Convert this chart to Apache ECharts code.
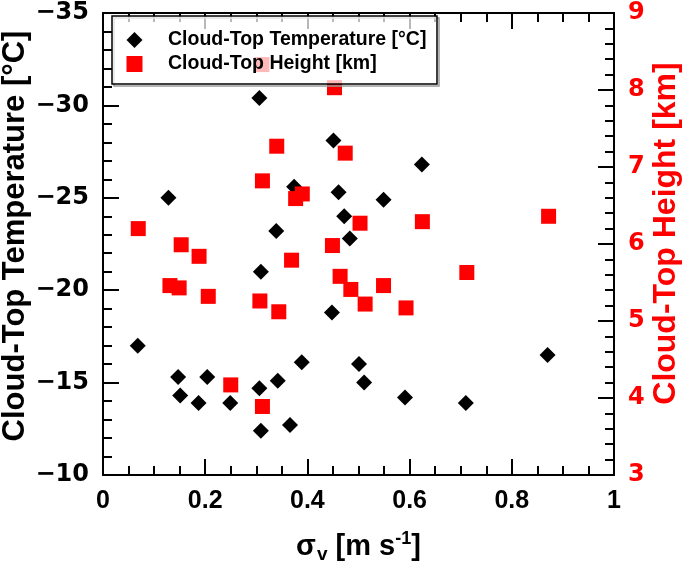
<!DOCTYPE html>
<html>
<head>
<meta charset="utf-8">
<script src="https://cdn.jsdelivr.net/npm/echarts@6/dist/echarts.min.js"></script>
<style>
html,body{margin:0;padding:0;background:#fff;}
#chart{width:685px;height:563px;}
</style>
</head>
<body>
<div id="chart"></div>
<script>
// sigma_v [m s-1] for the temperature points
var sigmaT = [0.306, 0.451, 0.374, 0.461, 0.128, 0.472, 0.339, 0.483, 0.624, 0.549, 0.309, 0.448, 0.068, 0.389, 0.501, 0.147, 0.204, 0.342, 0.306, 0.151, 0.187, 0.249, 0.309, 0.366, 0.511, 0.591, 0.710, 0.870];
// Cloud-top temperature [°C]
var tempC = [-30.4, -28.1, -25.6, -25.3, -25.0, -24.0, -23.2, -22.8, -26.8, -24.9, -21.0, -18.8, -17.0, -16.1, -16.0, -15.3, -15.3, -15.1, -14.7, -14.3, -13.9, -13.9, -12.4, -12.7, -15.0, -14.2, -13.9, -16.5];
// sigma_v [m s-1] for the height points
var sigmaH = [0.311, 0.453, 0.340, 0.474, 0.312, 0.390, 0.377, 0.069, 0.153, 0.449, 0.503, 0.625, 0.872, 0.188, 0.369, 0.131, 0.149, 0.206, 0.307, 0.344, 0.464, 0.485, 0.513, 0.549, 0.593, 0.712, 0.250, 0.312];
// Cloud-top height [km]
var heightKm = [8.33, 8.03, 7.27, 7.18, 6.82, 6.65, 6.59, 6.20, 5.99, 5.98, 6.27, 6.29, 6.36, 5.84, 5.79, 5.46, 5.43, 5.32, 5.26, 5.12, 5.58, 5.41, 5.22, 5.46, 5.17, 5.63, 4.17, 3.89];

var seriesNames = ['Cloud-Top Temperature [°C]', 'Cloud-Top Height [km]'];
var xTitle = ['σ', 'v', ' [m s', '-1', ']'];
var leftTitle = 'Cloud-Top Temperature [°C]';
var rightTitle = 'Cloud-Top Height [km]';

var FONT = 'Liberation Sans, Arial, sans-serif';
var tempData = sigmaT.map(function (x, i) { return [x, tempC[i]]; });
var heightData = sigmaH.map(function (x, i) { return [x, heightKm[i]]; });

function minusFmt(v) { return v < 0 ? '\u2212' + Math.abs(v) : String(v); }

var tickCommon = { show: true, inside: true, length: 16, lineStyle: { color: '#000', width: 2 } };
var minorCommon = function (n) { return { show: true, splitNumber: n, length: 9, lineStyle: { color: '#000', width: 2 } }; };
var lineCommon = { show: true, onZero: false, lineStyle: { color: '#000', width: 2 } };

var chart = echarts.init(document.getElementById('chart'), null, { renderer: 'canvas' });
chart.setOption({
  animation: false,
  backgroundColor: '#fff',
  grid: { left: 103, right: 71, top: 13, bottom: 88, containLabel: false, outerBoundsMode: 'none' },
  xAxis: [{
    type: 'value', min: 0, max: 1, interval: 0.2, position: 'bottom',
    axisLine: lineCommon, axisTick: tickCommon, minorTick: minorCommon(4), splitLine: { show: false },
    axisLabel: { margin: 14, color: '#000', fontFamily: FONT, fontWeight: 'bold', fontSize: 25 },
    name: '{a|' + xTitle[0] + '}{sub|' + xTitle[1] + '}{a|' + xTitle[2] + '}{sup|' + xTitle[3] + '}{a|' + xTitle[4] + '}',
    nameLocation: 'middle', nameGap: 55, nameMoveOverlap: false,
    nameTextStyle: {
      rich: {
        a: { fontFamily: FONT, fontWeight: 'bold', fontSize: 29, color: '#000', lineHeight: 34 },
        sub: { fontFamily: FONT, fontWeight: 'bold', fontSize: 19, color: '#000', verticalAlign: 'bottom', lineHeight: 26, padding: [0, 0, 0, 1] },
        sup: { fontFamily: FONT, fontWeight: 'bold', fontSize: 18, color: '#000', verticalAlign: 'top', lineHeight: 22 }
      }
    }
  }, {
    type: 'value', min: 0, max: 1, interval: 0.2, position: 'top',
    axisLine: lineCommon, axisTick: tickCommon, minorTick: minorCommon(4), splitLine: { show: false },
    axisLabel: { show: false }
  }],
  yAxis: [{
    type: 'value', min: -35, max: -10, interval: 5, inverse: true, position: 'left',
    axisLine: lineCommon, axisTick: tickCommon, minorTick: minorCommon(5), splitLine: { show: false },
    axisLabel: { margin: 14, color: '#000', fontFamily: 'DejaVu Sans', fontWeight: 'bold', fontSize: 24, formatter: minusFmt },
    name: leftTitle, nameLocation: 'middle', nameGap: 72, nameRotate: 90, nameMoveOverlap: false,
    nameTextStyle: { color: '#000', fontFamily: FONT, fontWeight: 'bold', fontSize: 31, padding: [0, 0, 0, 16] }
  }, {
    type: 'value', min: 3, max: 9, interval: 1, position: 'right',
    axisLine: lineCommon, axisTick: tickCommon, minorTick: minorCommon(5), splitLine: { show: false },
    axisLabel: { margin: 14, color: '#ff0000', fontFamily: 'DejaVu Sans', fontWeight: 'bold', fontSize: 24 },
    name: rightTitle, nameLocation: 'middle', nameGap: 36, nameRotate: 90, nameMoveOverlap: false,
    nameTextStyle: { color: '#ff0000', fontFamily: FONT, fontWeight: 'bold', fontSize: 32, padding: [0, 0, 0, 21] }
  }],
  legend: {
    orient: 'vertical', left: 126.5, top: 30, itemWidth: 16, itemHeight: 16, itemGap: 4, padding: 0, z: 10,
    selectedMode: false, symbolKeepAspect: true,
    textStyle: { color: '#000', fontFamily: FONT, fontWeight: 'bold', fontSize: 19.5, lineHeight: 20, padding: [0, 0, 0, 20.5] },
    data: [{ name: seriesNames[0], icon: 'diamond' }, { name: seriesNames[1], icon: 'rect' }]
  },
  graphic: [
    { type: 'rect', z: 5, shape: { x: 114, y: 18, width: 325, height: 68 }, style: { fill: 'none', stroke: '#9a9a9a', lineWidth: 1.5 } },
    { type: 'rect', z: 6, shape: { x: 112, y: 16, width: 325, height: 68 }, style: { fill: 'rgba(255,255,255,0.72)', stroke: '#000', lineWidth: 1.5 } }
  ],
  series: [{
    name: seriesNames[0], type: 'scatter', xAxisIndex: 0, yAxisIndex: 0,
    symbol: 'diamond', symbolSize: 16, itemStyle: { color: '#000', opacity: 1 },
    data: tempData, z: 2
  }, {
    name: seriesNames[1], type: 'scatter', xAxisIndex: 0, yAxisIndex: 1,
    symbol: 'rect', symbolSize: 15, itemStyle: { color: '#ff0000', opacity: 1 },
    data: heightData, z: 3
  }]
});
</script>
</body>
</html>
